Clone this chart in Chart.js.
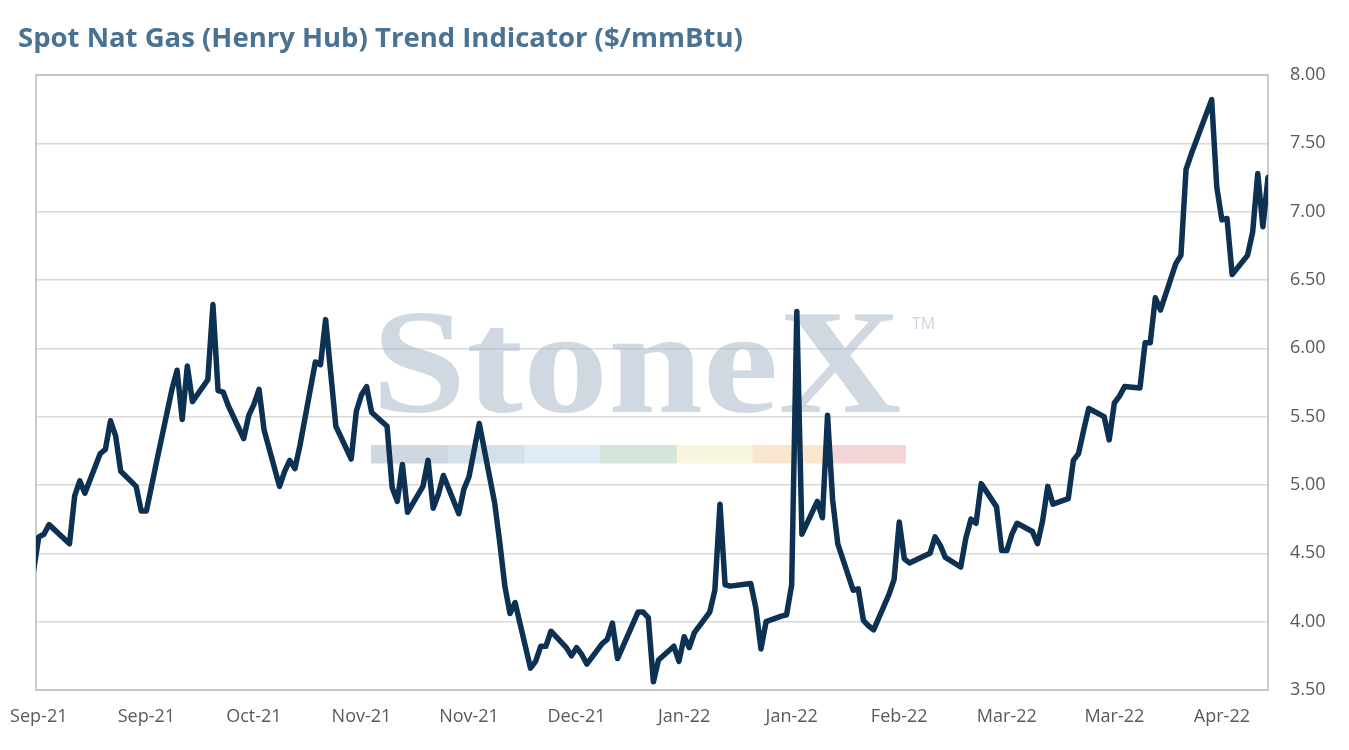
<!DOCTYPE html>
<html>
<head>
<meta charset="utf-8">
<script src="https://cdn.jsdelivr.net/npm/chart.js@4.4.1/dist/chart.umd.min.js"></script>
<style>
  html, body { margin: 0; padding: 0; background: #ffffff; }
  #wrap { width: 1349px; height: 750px; }
</style>
</head>
<body>
<div id="wrap"><canvas id="c" width="1349" height="750"></canvas></div>
<script>
// ---------- DATA ----------
const titleText = 'Spot Nat Gas (Henry Hub) Trend Indicator ($/mmBtu)';
const watermarkText = 'StoneX';
const seriesName = 'Henry Hub';

const dates = [
  '2021-08-31','2021-09-01','2021-09-02','2021-09-03','2021-09-07','2021-09-08','2021-09-09','2021-09-10',
  '2021-09-13','2021-09-14','2021-09-15','2021-09-16','2021-09-17','2021-09-20','2021-09-21','2021-09-22',
  '2021-09-23','2021-09-24','2021-09-27','2021-09-28','2021-09-29','2021-09-30','2021-10-01','2021-10-04',
  '2021-10-05','2021-10-06','2021-10-07','2021-10-08','2021-10-11','2021-10-12','2021-10-13','2021-10-14',
  '2021-10-15','2021-10-18','2021-10-19','2021-10-20','2021-10-21','2021-10-22','2021-10-25','2021-10-26',
  '2021-10-27','2021-10-28','2021-10-29','2021-11-01','2021-11-02','2021-11-03','2021-11-04','2021-11-05',
  '2021-11-08','2021-11-09','2021-11-10','2021-11-11','2021-11-12','2021-11-15','2021-11-16','2021-11-17',
  '2021-11-18','2021-11-19','2021-11-22','2021-11-23','2021-11-24','2021-11-26','2021-11-29','2021-11-30',
  '2021-12-01','2021-12-02','2021-12-03','2021-12-06','2021-12-07','2021-12-08','2021-12-09','2021-12-10',
  '2021-12-13','2021-12-14','2021-12-15','2021-12-16','2021-12-17','2021-12-20','2021-12-21','2021-12-22',
  '2021-12-23','2021-12-27','2021-12-28','2021-12-29','2021-12-30','2021-12-31','2022-01-03','2022-01-04',
  '2022-01-05','2022-01-06','2022-01-07','2022-01-10','2022-01-11','2022-01-12','2022-01-13','2022-01-14',
  '2022-01-18','2022-01-19','2022-01-20','2022-01-21','2022-01-24','2022-01-25','2022-01-26','2022-01-27',
  '2022-01-28','2022-01-31','2022-02-01','2022-02-02','2022-02-03','2022-02-04','2022-02-07','2022-02-08',
  '2022-02-09','2022-02-10','2022-02-11','2022-02-14','2022-02-15','2022-02-16','2022-02-17','2022-02-18',
  '2022-02-22','2022-02-23','2022-02-24','2022-02-25','2022-02-28','2022-03-01','2022-03-02','2022-03-03',
  '2022-03-04','2022-03-07','2022-03-08','2022-03-09','2022-03-10','2022-03-11','2022-03-14','2022-03-15',
  '2022-03-16','2022-03-17','2022-03-18','2022-03-21','2022-03-22','2022-03-23','2022-03-24','2022-03-25',
  '2022-03-28','2022-03-29','2022-03-30','2022-03-31','2022-04-01','2022-04-04','2022-04-05','2022-04-06',
  '2022-04-07','2022-04-08','2022-04-11','2022-04-12','2022-04-13','2022-04-14','2022-04-18','2022-04-19',
  '2022-04-20','2022-04-21','2022-04-22','2022-04-25','2022-04-26','2022-04-27','2022-04-28','2022-04-29'
];

const prices = [
  4.38, 4.62, 4.64, 4.71, 4.57, 4.92, 5.03, 4.94,
  5.23, 5.26, 5.47, 5.36, 5.10, 4.99, 4.81, 4.81,
  4.99, 5.17, 5.70, 5.84, 5.48, 5.87, 5.61, 5.77,
  6.32, 5.69, 5.68, 5.58, 5.34, 5.51, 5.59, 5.70,
  5.40, 4.99, 5.10, 5.18, 5.12, 5.29, 5.90, 5.88,
  6.21, 5.82, 5.43, 5.19, 5.54, 5.66, 5.72, 5.53,
  5.43, 4.98, 4.88, 5.15, 4.80, 4.99, 5.18, 4.83,
  4.93, 5.07, 4.79, 4.97, 5.06, 5.45, 4.87, 4.58,
  4.26, 4.06, 4.14, 3.66, 3.71, 3.82, 3.82, 3.93,
  3.81, 3.75, 3.81, 3.76, 3.69, 3.84, 3.87, 3.99,
  3.73, 4.07, 4.07, 4.03, 3.56, 3.72, 3.82, 3.71,
  3.89, 3.81, 3.92, 4.07, 4.23, 4.86, 4.27, 4.26,
  4.28, 4.10, 3.80, 4.00, 4.04, 4.05, 4.27, 6.27,
  4.64, 4.88, 4.76, 5.51, 4.89, 4.57, 4.23, 4.24,
  4.01, 3.97, 3.94, 4.20, 4.31, 4.73, 4.46, 4.43,
  4.50, 4.62, 4.56, 4.47, 4.40, 4.61, 4.75, 4.72,
  5.01, 4.84, 4.52, 4.52, 4.64, 4.72, 4.66, 4.57,
  4.74, 4.99, 4.86, 4.90, 5.18, 5.23, 5.40, 5.56,
  5.50, 5.33, 5.60, 5.65, 5.72, 5.71, 6.04, 6.04,
  6.37, 6.28, 6.62, 6.68, 7.31, 7.42, 7.82, 7.18,
  6.94, 6.95, 6.54, 6.68, 6.85, 7.28, 6.89, 7.25
];

const tickLabels = ['Sep-21','Sep-21','Oct-21','Nov-21','Nov-21','Dec-21','Jan-22','Jan-22','Feb-22','Mar-22','Mar-22','Apr-22'];
const tickStepDays = 21;
const axisStartDate = '2021-09-01';
const yMin = 3.5, yMax = 8.0, yStep = 0.5;

// ---------- BUILD ----------
const DAY = 86400000;
const origin = Date.parse(axisStartDate);
const dayOf = d => (Date.parse(d) - origin) / DAY;
const points = dates.map((d, i) => ({ x: dayOf(d), y: prices[i] }));

const watermarkPlugin = {
  id: 'watermarkFrame',
  beforeDatasetsDraw(chart) {
    const ctx = chart.ctx;
    const a = chart.chartArea;
    ctx.save();
    ctx.font = 'bold 148px "Liberation Serif", serif';
    const w = ctx.measureText(watermarkText).width;
    ctx.translate(371.5, 412);
    ctx.scale(530 / w, 1);
    ctx.fillStyle = 'rgba(172,186,204,0.56)';
    ctx.textBaseline = 'alphabetic';
    ctx.fillText(watermarkText, 0, 0);
    ctx.restore();

    ctx.save();
    ctx.font = '16px "Open Sans", sans-serif';
    ctx.fillStyle = 'rgba(172,186,204,0.6)';
    ctx.fillText('TM', 912, 329);
    const barColors = ['rgba(172,186,204,0.58)','rgba(180,198,218,0.55)','rgba(196,220,238,0.55)',
                       'rgba(176,208,188,0.55)','rgba(242,240,196,0.6)','rgba(244,210,168,0.55)','rgba(236,180,182,0.55)'];
    const bx0 = 371, bx1 = 905.5, by = 445, bh = 18.5;
    const sw = (bx1 - bx0) / barColors.length;
    barColors.forEach((c, i) => {
      ctx.fillStyle = c;
      ctx.fillRect(bx0 + i * sw, by, sw + 0.5, bh);
    });
    ctx.strokeStyle = '#bfbfbf';
    ctx.lineWidth = 1.6;
    ctx.strokeRect(a.left, a.top, a.right - a.left, a.bottom - a.top);
    ctx.restore();
  }
};

new Chart(document.getElementById('c'), {
  type: 'line',
  data: {
    datasets: [{
      label: seriesName,
      data: points,
      borderColor: '#0d3152',
      borderWidth: 5.5,
      pointRadius: 0,
      tension: 0,
      borderJoinStyle: 'round',
      borderCapStyle: 'round'
    }]
  },
  options: {
    responsive: false,
    animation: false,
    devicePixelRatio: 1,
    layout: { padding: { left: 18, right: 23, top: 0, bottom: 22 } },
    plugins: {
      legend: { display: false },
      tooltip: { enabled: false },
      title: {
        display: true,
        text: titleText,
        align: 'start',
        color: '#4a7393',
        font: { family: '"Open Sans", sans-serif', size: 27.5, weight: 'bold' },
        padding: { top: 23, bottom: 19 }
      }
    },
    scales: {
      x: {
        type: 'linear',
        min: -0.547,
        max: 240,
        grid: { display: false, drawTicks: false },
        border: { display: false },
        afterBuildTicks: s => { s.ticks = tickLabels.map((_, i) => ({ value: i * tickStepDays })); },
        ticks: {
          autoSkip: false,
          maxRotation: 0,
          padding: 16,
          color: '#595959',
          font: { family: '"Open Sans", sans-serif', size: 18 },
          callback: v => tickLabels[Math.round(v / tickStepDays)] ?? ''
        },
        afterFit: s => { s.height = 38; s.paddingLeft = 0; s.paddingRight = 0; }
      },
      yL: {
        position: 'left',
        display: true,
        grid: { display: false, drawTicks: false },
        border: { display: false },
        ticks: { display: false },
        afterFit: s => { s.width = 18; }
      },
      y: {
        position: 'right',
        min: yMin,
        max: yMax,
        grid: { color: '#d9d9d9', lineWidth: 1.6, drawTicks: false },
        border: { display: false },
        ticks: {
          stepSize: yStep,
          padding: 22,
          color: '#595959',
          font: { family: '"Open Sans", sans-serif', size: 18 },
          callback: v => v.toFixed(2)
        },
        afterFit: s => { s.width = 58; s.paddingTop = 0; s.paddingBottom = 0; }
      }
    }
  },
  plugins: [watermarkPlugin]
});
</script>
</body>
</html>
